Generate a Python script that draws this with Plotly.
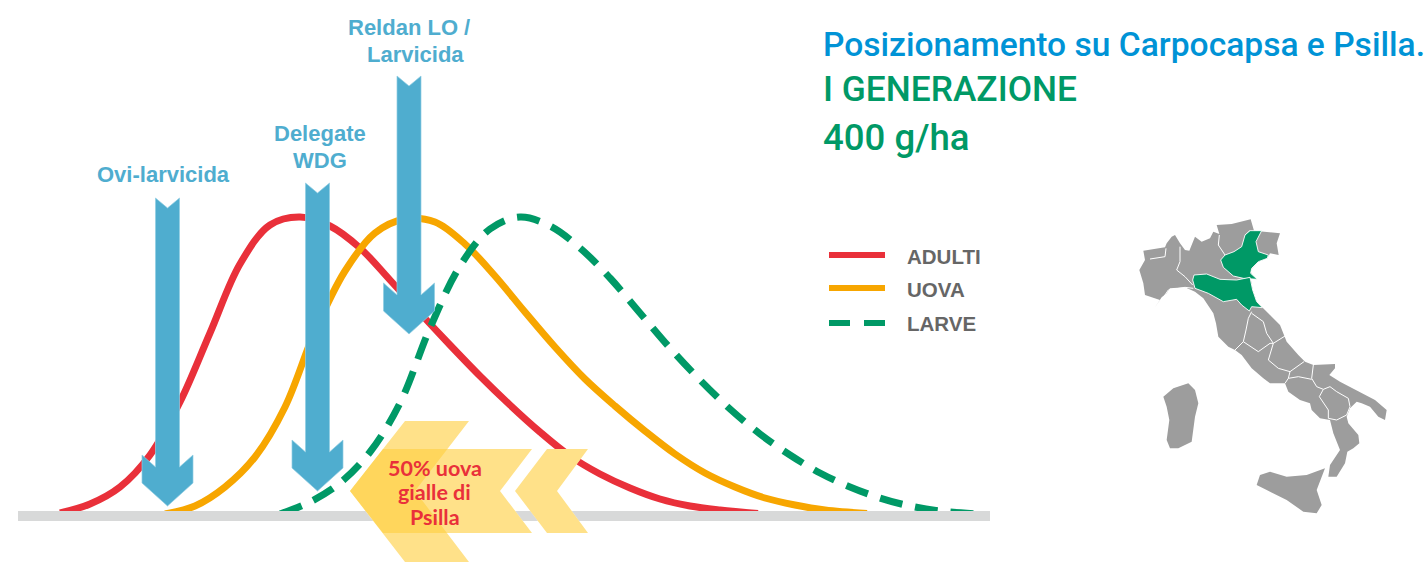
import plotly.graph_objects as go

# ---------- chart data (picture pixels) ----------
adulti_x = [60, 90, 120, 150, 180, 210, 240, 270, 300, 330, 360, 390, 420, 450, 480, 510, 540, 570, 600, 630, 660, 690, 720, 758]
adulti_y = [513, 504, 487, 455, 402, 333, 264, 225, 217, 226, 248, 280, 313, 345, 376, 405, 432, 456, 474, 488, 499, 506, 510, 513.5]
uova_x = [165, 195, 225, 255, 285, 315, 345, 375, 405, 435, 465, 495, 525, 555, 585, 615, 645, 675, 705, 735, 765, 795, 825, 867]
uova_y = [514, 506, 487, 457, 407, 331, 271, 233, 219, 222, 244, 276, 312, 347, 379, 406, 431, 454, 473, 487, 498, 505, 510, 513.5]
larve_x = [280, 310, 340, 370, 400, 430, 460, 490, 520, 550, 580, 610, 640, 670, 700, 730, 760, 790, 820, 850, 880, 910, 940, 978]
larve_y = [514, 502, 483, 452, 403, 328, 266, 229, 217, 226, 248, 278, 313, 348, 380, 409, 434, 455, 473, 487, 498, 506, 511, 514]

series_names = ["ADULTI", "UOVA", "LARVE"]
arrow_labels = [["Ovi-larvicida"], ["Delegate", "WDG"], ["Reldan LO /", "Larvicida"]]
title_lines = ["Posizionamento su Carpocapsa e Psilla.", "I GENERAZIONE", "400 g/ha"]
callout_lines = ["50% uova", "gialle di", "Psilla"]

arrow_x = [167.5, 317.5, 409]
arrow_top = [198, 183, 76]
arrow_tip = [506, 491, 334]

chevron_1_x = [350, 405, 469, 415, 469, 405]
chevron_1_y = [491, 421, 421, 491, 562, 562]
chevron_2_x = [350, 383, 532, 500, 532, 383]
chevron_2_y = [491, 449, 449, 491, 533, 533]
chevron_3_x = [515, 547, 588, 557, 588, 547]
chevron_3_y = [491, 449, 449, 491, 533, 533]

# ---------- map outlines ----------
mainland = [(58,210),(75,180),(70,152),(100,148),(135,142),(140,130),(155,110),(165,105),(180,130),(195,150),(208,152),(225,110),
            (245,125),(270,115),(280,95),(298,102),(290,75),(335,72),(392,58),(402,92),(430,95),(480,100),(470,130),(476,165),
            (450,160),(442,175),(415,185),(392,210),(395,225),(412,238),(392,235),(398,270),(410,305),(427,323),(450,345),
            (480,375),(490,400),(500,425),(535,465),(555,485),(580,495),(645,492),(645,505),(628,525),(660,545),(720,575),
            (765,600),(800,630),(795,660),(775,650),(750,620),(725,610),(710,605),(690,625),(680,650),(685,670),(715,705),
            (718,730),(700,745),(682,755),(675,790),(650,830),(625,830),(630,795),(660,750),(640,700),(630,660),(600,655),
            (575,630),(570,610),(540,600),(505,575),(495,550),(450,550),(430,535),(395,505),(365,465),(345,450),(325,440),
            (295,410),(288,370),(280,340),(270,325),(250,295),(225,275),(195,262),(150,265),(140,280),(125,292),(105,322),
            (120,300),(75,285),(70,250)]
sicily = [(410,855),(420,825),(450,815),(500,830),(560,825),(615,805),(590,870),(605,915),(590,940),(550,935),(500,900),(440,870)]
sardinia = [(130,590),(160,565),(205,550),(225,570),(235,610),(225,650),(215,725),(175,745),(150,745),(140,720),(148,660),(140,620)]
veneto = [(425,92),(390,92),(375,105),(365,140),(342,155),(315,165),(302,180),(310,202),(340,228),(370,235),(412,238),
          (392,220),(395,205),(415,185),(442,175),(445,165),(415,155),(408,125)]
emilia = [(222,225),(260,222),(300,238),(350,240),(390,232),(398,270),(410,305),(427,323),(395,320),(388,333),(365,315),
          (350,298),(310,305),(265,280),(225,265),(218,240)]
borders = [
    [(180,140),(180,185),(170,210),(195,230),(218,255)],
    [(130,292),(145,270),(195,262),(220,265)],
    [(90,177),(135,170),(138,145)],
    [(298,105),(295,135),(315,165)],
    [(375,105),(390,92)],
    [(395,335),(385,355),(378,390),(370,425),(345,450)],
    [(395,340),(430,365),(440,400),(460,430)],
    [(370,425),(415,455),(450,430),(460,430)],
    [(460,430),(495,408)],
    [(460,430),(452,455),(445,480),(475,505),(510,515)],
    [(510,515),(552,485)],
    [(580,495),(575,535)],
    [(505,535),(535,530),(575,538)],
    [(510,515),(505,535),(495,550)],
    [(575,535),(590,560),(610,568)],
    [(610,568),(630,560),(650,575),(685,595),(690,620),(680,645)],
    [(610,568),(598,590),(625,630),(625,655)],
    [(625,655),(650,660),(680,645)],
]

RED, ORANGE, GREEN, BLUE = "#E9303A", "#F7A600", "#009966", "#4FADCF"
W, H = 1425, 563

fig = go.Figure()


def poly(points, color, line_color=None, line_width=0, axes=("x2", "y2")):
    xs, ys = zip(*points)
    fig.add_trace(go.Scatter(x=list(xs), y=list(ys), mode="lines", fill="toself", fillcolor=color,
                             line=dict(color=line_color or color, width=line_width),
                             hoverinfo="skip", showlegend=False, xaxis=axes[0], yaxis=axes[1]))


# curves
for name, xs, ys, color, dash in [(series_names[0], adulti_x, adulti_y, RED, "solid"),
                                  (series_names[1], uova_x, uova_y, ORANGE, "solid"),
                                  (series_names[2], larve_x, larve_y, GREEN, "23px,13px")]:
    fig.add_trace(go.Scatter(x=xs, y=ys, mode="lines", name=name, showlegend=False,
                             line=dict(color=color, width=7, shape="spline", smoothing=1, dash=dash)))
# baseline
fig.add_trace(go.Scatter(x=[18, 990], y=[516, 516], mode="lines", line=dict(color="#D8D9D9", width=10),
                         hoverinfo="skip", showlegend=False))

# chevrons
chevrons = [(chevron_1_x, chevron_1_y), (chevron_2_x, chevron_2_y), (chevron_3_x, chevron_3_y)]
for xs, ys in chevrons:
    poly(list(zip(xs, ys)), "#FFFFFF", axes=("x", "y"))
for xs, ys in chevrons:
    poly(list(zip(xs, ys)), "rgba(255,207,64,0.62)", line_color="rgba(0,0,0,0)", axes=("x", "y"))

# arrows
for cx, top, tip in zip(arrow_x, arrow_top, arrow_tip):
    pts = [(cx - 12, top), (cx, top + 10), (cx + 12, top), (cx + 12, tip - 39), (cx + 25.5, tip - 51), (cx + 25.5, tip - 23),
           (cx, tip), (cx - 25.5, tip - 23), (cx - 25.5, tip - 51), (cx - 12, tip - 39), (cx - 12, top)]
    poly(pts, BLUE, line_color="#8FCDE2", line_width=0.7, axes=("x", "y"))

# legend samples
for y, color, dash in [(255, RED, "solid"), (288, ORANGE, "solid"), (323, GREEN, "21px,14px")]:
    fig.add_trace(go.Scatter(x=[829, 885], y=[y, y], mode="lines", line=dict(color=color, width=6, dash=dash),
                             hoverinfo="skip", showlegend=False))

# map
poly(mainland, "#9D9D9D")
poly(sicily, "#9D9D9D")
poly(sardinia, "#9D9D9D")
for b in borders:
    xs, ys = zip(*b)
    fig.add_trace(go.Scatter(x=list(xs), y=list(ys), xaxis="x2", yaxis="y2", mode="lines",
                             line=dict(color="#FFFFFF", width=1), hoverinfo="skip", showlegend=False))
poly(veneto + veneto[:1], GREEN, line_color="#FFFFFF", line_width=0.9)
poly(emilia + emilia[:1], GREEN, line_color="#FFFFFF", line_width=0.9)


def text(x, y, s, color, size, family, weight=700, anchor="center"):
    fig.add_annotation(x=x, y=y, xref="x", yref="y", text=s, showarrow=False, xanchor=anchor, yanchor="middle",
                       font=dict(color=color, size=size, family=family, weight=weight))


LS = "Liberation Sans"
text(163.5, 174, arrow_labels[0][0], BLUE, 22, LS)
text(320, 133, arrow_labels[1][0], BLUE, 22, LS)
text(320, 160, arrow_labels[1][1], BLUE, 22, LS)
text(409, 27, arrow_labels[2][0], BLUE, 22, LS)
text(415, 54, arrow_labels[2][1], BLUE, 22, LS)
for y, s in zip([468, 492, 517], callout_lines):
    text(434.5, y, s, RED, 21.5, "Lato")
for y, s in zip([256, 289, 323], series_names):
    text(905, y, s, "#666666", 20.5, LS, anchor="left")
for y, s, c, size in zip([44, 89, 137], title_lines, ["#0093D6", GREEN, GREEN], [33.6, 35.3, 36.6]):
    text(820.5, y, s, c, size, "Roboto", weight=500, anchor="left")

hidden = dict(visible=False, fixedrange=True)
fig.update_layout(
    width=W, height=H, margin=dict(l=0, r=0, t=0, b=0), paper_bgcolor="white", plot_bgcolor="rgba(0,0,0,0)",
    showlegend=False,
    xaxis=dict(range=[0, W], domain=[0, 1], **hidden),
    yaxis=dict(range=[H, 0], domain=[0, 1], **hidden),
    xaxis2=dict(range=[0, 870], domain=[1120 / W, 1410 / W], anchor="y2", **hidden),
    yaxis2=dict(range=[990, 0], domain=[(H - 530) / H, (H - 200) / H], anchor="x2", **hidden),
)
fig.write_html("out.html", config=dict(displayModeBar=False),
               post_script="document.body.style.margin='0';document.body.style.overflow='hidden';")
